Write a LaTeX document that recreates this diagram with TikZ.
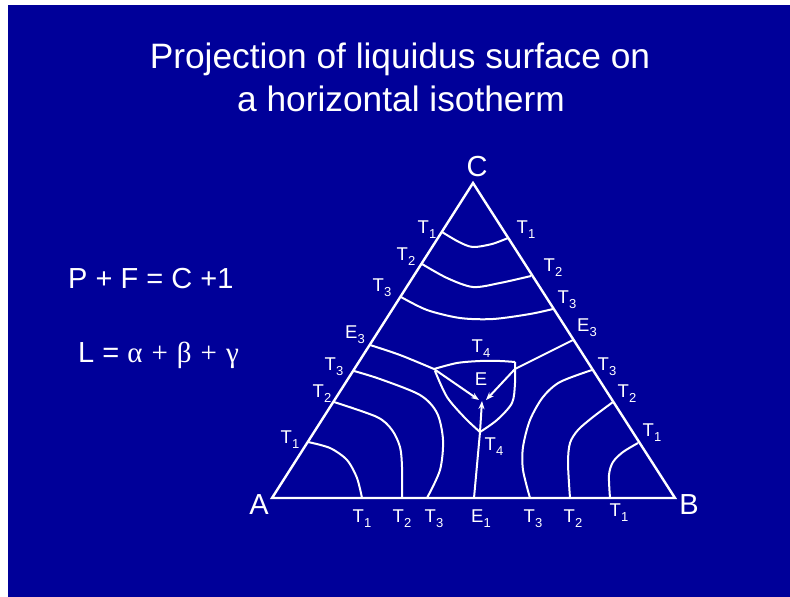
\documentclass[tikz,border=0pt]{standalone}
\usepackage{fontspec}
\setmainfont{Liberation Sans}
\newfontfamily\greekfont{Liberation Serif}
\usetikzlibrary{arrows.meta}
\definecolor{slideblue}{RGB}{0,0,153}
\newcommand{\idx}[2]{#1\raisebox{-.5ex}{\fontsize{13}{13}\selectfont #2}}

\begin{document}
\begin{tikzpicture}[x=1pt,y=1pt,>=Stealth,
 tri/.style={white,line width=2.4pt,line join=miter},
 iso/.style={white,line width=2pt},
 flow/.style={white,line width=2pt,-{Stealth[length=8pt,width=6pt]}},
 lab/.style={text=white,inner sep=0pt,font=\fontsize{18.5}{18.5}\selectfont},
 big/.style={text=white,inner sep=0pt,font=\fontsize{29}{29}\selectfont},
 title/.style={text=white,inner sep=0pt,font=\fontsize{35.3}{35.3}\selectfont}]
\useasboundingbox (0,0) rectangle (790,-597);
\fill[white] (0,0) rectangle (790,-597);
\fill[slideblue] (8,-5) rectangle (790,-597);
\node[title,anchor=base] (head1) at (400,-68) {Projection of liquidus surface on};
\node[title,anchor=base] (head2) at (401,-111) {a horizontal isotherm};
\node[big,anchor=base west] (phase) at (68,-288) {P + F = C +1};
\node[big,anchor=base west] (liq) at (78,-362) {L = {\greekfont α\hspace{9pt}+\hspace{9pt}β\hspace{9pt}+\hspace{9pt}γ}};
\coordinate (A) at (272,-498);
\coordinate (B) at (675,-498);
\coordinate (C) at (473,-183);
\draw[tri] (A)--(B)--(C)--cycle;
\node[big] (labA) at (259,-505) {A};
\node[big] (labB) at (689,-505) {B};
\node[big] (labC) at (477,-167) {C};
\coordinate (E) at (481,-401);
\coordinate (e3l) at (370,-345);
\coordinate (e3r) at (573,-340);
\coordinate (e1) at (474,-498);
\coordinate (kl) at (434,-369);
\coordinate (kr) at (515,-369);
\coordinate (kt) at (515,-362);
\coordinate (kb) at (480,-432);
\draw[iso] (442,-232) plot[smooth] coordinates {(442,-232) (459,-242) (473,-247) (492,-244) (508,-238)};
\draw[iso] (422,-264) plot[smooth] coordinates {(422,-264) (447,-278) (473,-287) (500,-283) (531,-276)};
\draw[iso] (401,-297) plot[smooth] coordinates {(401,-297) (427,-310) (460,-318) (493,-319) (530,-314) (553,-309)};
\draw[iso] (e3l) plot[smooth] coordinates {(e3l) (400,-355) (kl)};
\draw[iso] (e3r)--(kr);
\draw[iso] (e1)--(kb);
\draw[flow] (kl)--(479,-400);
\draw[flow] (kr)--(486,-400);
\draw[flow] (kb)--(482,-401);
\draw[iso] (kl) plot[smooth] coordinates {(kl) (457,-363) (480,-361) (500,-361) (kt)};
\draw[iso] (435,-371) plot[smooth] coordinates {(435,-371) (447,-397) (465,-418) (kb)};
\draw[iso] (kt) plot[smooth] coordinates {(kt) (515,-383) (512,-403) (497,-420) (kb)};
\draw[iso] (308,-442) plot[smooth] coordinates {(308,-442) (330,-448) (347,-460) (357,-478) (362,-498)};
\draw[iso] (334,-402) plot[smooth] coordinates {(334,-402) (377,-417) (392,-430) (400,-447) (402,-467) (402,-498)};
\draw[iso] (354,-371) plot[smooth] coordinates {(354,-371) (380,-379) (420,-395) (437,-413) (443,-440) (440,-470) (427,-498)};
\draw[iso] (592,-370) plot[smooth] coordinates {(592,-370) (560,-382) (543,-397) (530,-420) (523,-447) (523,-470) (530,-498)};
\draw[iso] (613,-402) plot[smooth] coordinates {(613,-402) (593,-417) (578,-430) (570,-443) (568,-463) (570,-498)};
\draw[iso] (638,-443) plot[smooth] coordinates {(638,-443) (623,-452) (613,-462) (609,-475) (610,-498)};
\node[lab] (t1a) at (427,-230) {\idx{T}{1}};
\node[lab] (t1b) at (526,-230) {\idx{T}{1}};
\node[lab] (t2a) at (406,-257) {\idx{T}{2}};
\node[lab] (t2b) at (553,-268) {\idx{T}{2}};
\node[lab] (t3a) at (382,-288) {\idx{T}{3}};
\node[lab] (t3b) at (567,-300) {\idx{T}{3}};
\node[lab] (e3a) at (355,-335) {\idx{E}{3}};
\node[lab] (e3b) at (587,-328) {\idx{E}{3}};
\node[lab] (t3c) at (334,-367) {\idx{T}{3}};
\node[lab] (t2c) at (322,-394) {\idx{T}{2}};
\node[lab] (t1c) at (290,-440) {\idx{T}{1}};
\node[lab] (t3d) at (607,-367) {\idx{T}{3}};
\node[lab] (t2d) at (627,-394) {\idx{T}{2}};
\node[lab] (t1d) at (652,-433) {\idx{T}{1}};
\node[lab] (t4a) at (481,-349) {\idx{T}{4}};
\node[lab] (elab) at (481,-379) {E};
\node[lab] (t4b) at (494,-447) {\idx{T}{4}};
\node[lab] (b1) at (362,-519) {\idx{T}{1}};
\node[lab] (b2) at (402,-519) {\idx{T}{2}};
\node[lab] (b3) at (434,-519) {\idx{T}{3}};
\node[lab] (b4) at (481,-519) {\idx{E}{1}};
\node[lab] (b5) at (533,-519) {\idx{T}{3}};
\node[lab] (b6) at (573,-519) {\idx{T}{2}};
\node[lab] (b7) at (619,-513) {\idx{T}{1}};
\end{tikzpicture}
\end{document}
